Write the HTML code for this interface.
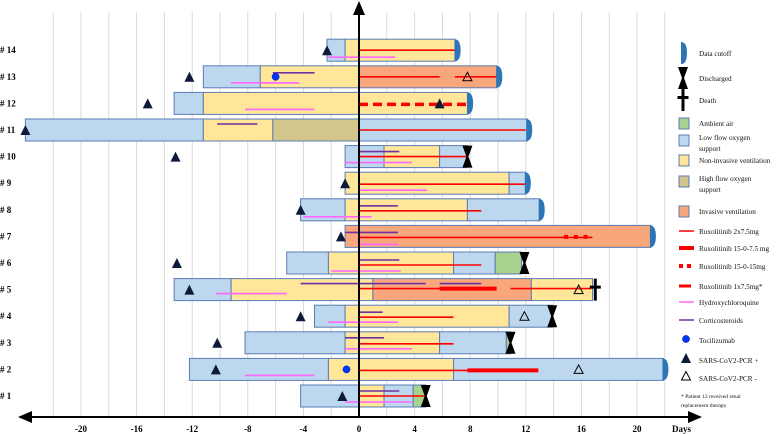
<!DOCTYPE html>
<html><head><meta charset="utf-8">
<style>
html,body{margin:0;padding:0;background:#fff;}
svg{display:block;font-family:"Liberation Serif",serif;}
</style></head>
<body>
<svg id="chart" width="780" height="434" viewBox="0 0 780 434" xmlns="http://www.w3.org/2000/svg">
<defs>
<marker id="arr" markerWidth="8" markerHeight="8" refX="6" refY="3" orient="auto"><path d="M0,0 L7,3 L0,6 z" fill="#000"/></marker>
</defs>
<g id="grid"></g>
<g id="bars"></g>
<g id="lines"></g>
<g id="marks"></g>
<g id="axes"></g>
<g id="legend"></g>
</svg>
<script>
// ---- data ----
const patients = ["# 1","# 2","# 3","# 4","# 5","# 6","# 7","# 8","# 9","# 10","# 11","# 12","# 13","# 14"];
const xTicks = [-20,-16,-12,-8,-4,0,4,8,12,16,20];
const gridDays = [-22,-20,-18,-16,-14,-12,-10,-8,-6,-4,-2,2,4,6,8,10,12,14,16,18,20,22];
// segments: [patientIndex, start, end, state]
const segments = [
 [13,-2.3,-1,"low"],[13,-1,6.9,"niv"],
 [12,-11.2,-7.1,"low"],[12,-7.1,0,"niv"],[12,0,9.9,"inv"],
 [11,-13.3,-11.2,"low"],[11,-11.2,7.8,"niv"],
 [10,-24,-11.2,"low"],[10,-11.2,-6.2,"niv"],[10,-6.2,0,"high"],[10,0,12.1,"low"],
 [9,-1,1.8,"low"],[9,1.8,5.8,"niv"],[9,5.8,7.8,"low"],
 [8,-1,10.8,"niv"],[8,10.8,12,"low"],
 [7,-4.2,-1,"low"],[7,-1,7.8,"niv"],[7,7.8,13,"low"],
 [6,-1,21,"inv"],
 [5,-5.2,-2.2,"low"],[5,-2.2,6.8,"niv"],[5,6.8,9.8,"low"],[5,9.8,11.7,"amb"],
 [4,-13.3,-9.2,"low"],[4,-9.2,1,"niv"],[4,1,12.4,"inv"],[4,12.4,16.8,"niv"],
 [3,-3.2,-1,"low"],[3,-1,10.8,"niv"],[3,10.8,13.9,"low"],
 [2,-8.2,-1,"low"],[2,-1,5.8,"niv"],[2,5.8,10.6,"low"],[2,10.6,10.9,"amb"],
 [1,-12.2,-2.2,"low"],[1,-2.2,6.8,"niv"],[1,6.8,21.9,"low"],
 [0,-4.2,0,"low"],[0,0,1.8,"niv"],[0,1.8,3.9,"low"],[0,3.9,4.8,"amb"]
];
// treatment lines: [patientIndex, start, end, kind, offset]
const treatments = [
 [13,0,6.9,"rux",0],[13,-2.2,2.6,"hcq",7],
 [12,-6.2,-3.2,"cort",-4],[12,-9.2,-4.3,"hcq",6],[12,0,5.8,"rux",0],[12,6.9,9.9,"rux",0],
 [11,-8.2,-3.2,"hcq",6],[11,0,7.8,"ruxdash",1],
 [10,-10.2,-7.3,"cort",-6],[10,0,12,"rux",0],
 [9,0,2.9,"cort",-5],[9,0,7.8,"rux",0],[9,-1,3.8,"hcq",6],
 [8,0,12,"rux",1],[8,0,4.9,"hcq",7],
 [7,0,2.8,"cort",-4],[7,0,8.8,"rux",1],[7,-4,0.9,"hcq",7],
 [6,-1,2.8,"cort",-4],[6,0,16.8,"rux",1],[6,0,2.8,"hcq",8],
 [5,0,2.9,"cort",-3],[5,0,8.8,"rux",2],[5,-2,3,"hcq",8],
 [4,-4.2,4.8,"cort",-6],[4,5.8,8.8,"cort",-6],[4,0,9.9,"rux",-1],[4,5.8,9.9,"ruxthick",-1],[4,10.9,16.7,"rux",-1],[4,-10.3,-5.2,"hcq",4],
 [3,0,1.7,"cort",-4],[3,0,6.8,"rux",1],[3,-2.2,2.8,"hcq",6],
 [2,-1,1.8,"cort",-5],[2,0,6.8,"rux",1],[2,-1,3.8,"hcq",6],
 [1,0,7.8,"rux",1],[1,7.8,12.9,"ruxthick",1],[1,-8.2,-3.2,"hcq",6],
 [0,0,2.9,"cort",-5],[0,0,4.8,"rux",0],[0,-1,3.8,"hcq",6]
];
// markers: [patientIndex, day, kind]
const markers = [
 [13,-2.3,"pcrpos"],[13,6.95,"cutoff"],
 [12,-12.2,"pcrpos"],[12,-6,"toci"],[12,7.8,"pcrneg"],[12,9.95,"cutoff"],
 [11,-15.2,"pcrpos"],[11,5.8,"pcrpos"],[11,7.85,"cutoff"],
 [10,-24,"pcrpos"],[10,12.1,"cutoff"],
 [9,-13.2,"pcrpos"],[9,7.8,"discharged"],
 [8,-1,"pcrpos"],[8,12,"cutoff"],
 [7,-4.2,"pcrpos"],[7,13,"cutoff"],
 [6,-1.3,"pcrpos"],[6,21,"cutoff"],
 [5,-13.1,"pcrpos"],[5,11.9,"discharged"],
 [4,-12.2,"pcrpos"],[4,15.8,"pcrneg"],[4,17,"death"],
 [3,-4.2,"pcrpos"],[3,11.9,"pcrneg"],[3,13.9,"discharged"],
 [2,-10.2,"pcrpos"],[2,10.9,"discharged"],
 [1,-10.3,"pcrpos"],[1,-0.9,"toci"],[1,15.8,"pcrneg"],[1,21.9,"cutoff"],
 [0,-1.2,"pcrpos"],[0,4.8,"discharged"]
];
// ---- scales ----
const X = d => 359 + d*13.9;
const Y = i => 396 - i*26.6;
const NS = "http://www.w3.org/2000/svg";
function mk(parent, tag, attrs, name){
  const e = document.createElementNS(NS, tag);
  for (const k in attrs) e.setAttribute(k, attrs[k]);
  
  
  document.getElementById(parent).appendChild(e);
  return e;
}
const fills = {low:"#bdd7ee",niv:"#ffe699",inv:"#f8a77c",high:"#d3c68c",amb:"#a9d18e"};
// grid
gridDays.forEach(d=>{
  mk("grid","line",{x1:X(d),x2:X(d),y1:12,y2:416,stroke:"#d9d9d9","stroke-width":1},"gridline");
});
// bars
segments.forEach(s=>{
  const x1=X(s[1]), x2=X(s[2]);
  mk("bars","rect",{x:x1,y:Y(s[0])-11,width:x2-x1,height:22,fill:fills[s[3]],stroke:"#5a7db5","stroke-width":1},"bar-"+s[3]);
});
// treatments
treatments.forEach(t=>{
  const y=Y(t[0])+t[4];
  const a={x1:X(t[1]),x2:X(t[2]),y1:y,y2:y};
  if(t[3]==="rux"){a.stroke="#ff0000";a["stroke-width"]=1.6;}
  else if(t[3]==="ruxthick"){a.stroke="#ff0000";a["stroke-width"]=4;}
  else if(t[3]==="ruxdash"){a.stroke="#ff0000";a["stroke-width"]=3.5;a["stroke-dasharray"]="9,5";}
  else if(t[3]==="hcq"){a.stroke="#ff66ff";a["stroke-width"]=1.6;}
  else {a.stroke="#7030a0";a["stroke-width"]=1.6;}
  mk("lines","line",a,"line-"+t[3]);
});
// special squares on patient 7
[14.9,15.6,16.3].forEach(d=>{
  mk("lines","rect",{x:X(d)-2,y:Y(6)-1.5,width:4,height:4,fill:"#ff0000"},"rux-square");
});
function drawMarker(g,x,y,k){
  if(k==="pcrpos") return mk(g,"path",{d:`M${x-5},${y+5} L${x},${y-5} L${x+5},${y+5} z`,fill:"#0d1a3a"},"pcr-positive");
  if(k==="pcrneg") return mk(g,"path",{d:`M${x-4.5},${y+4} L${x},${y-4.5} L${x+4.5},${y+4} z`,fill:"none",stroke:"#000","stroke-width":1},"pcr-negative");
  if(k==="toci") return mk(g,"circle",{cx:x,cy:y,r:3.6,fill:"#0033ff",stroke:"#002299","stroke-width":0.5},"tocilizumab");
  if(k==="cutoff") return mk(g,"path",{d:`M${x-1},${y-11} Q${x+5},${y-11} ${x+5},${y} Q${x+5},${y+11} ${x-1},${y+11} z`,fill:"#2e75b6"},"data-cutoff");
  if(k==="discharged") return mk(g,"path",{d:`M${x-5},${y-11} L${x+5},${y-11} L${x+1},${y} L${x+5},${y+11} L${x-5},${y+11} L${x-1},${y} z`,fill:"#000"},"discharged");
  if(k==="death") return mk(g,"path",{d:`M${x-1.5},${y-11} h3 v7 h4 v3 h-4 v12 h-3 v-12 h-4 v-3 h4 z`,fill:"#000"},"death");
}
markers.forEach(m=>drawMarker("marks",X(m[1]),Y(m[0]),m[2]));
// axes
mk("axes","line",{x1:X(0),x2:X(0),y1:417,y2:3,stroke:"#000","stroke-width":2,"marker-end":"url(#arr)"},"y-axis");
mk("axes","line",{x1:X(0),x2:700,y1:417,y2:417,stroke:"#000","stroke-width":2,"marker-end":"url(#arr)"},"x-axis-right");
mk("axes","line",{x1:X(0),x2:20,y1:417,y2:417,stroke:"#000","stroke-width":2,"marker-end":"url(#arr)"},"x-axis-left");
xTicks.forEach(d=>{
  const t=mk("axes","text",{x:X(d),y:432,"text-anchor":"middle","font-size":9,"font-weight":"bold"},"x-tick-label");
  t.textContent=d;
});
const dl=mk("axes","text",{x:672,y:432,"font-size":9,"font-weight":"bold"},"x-axis-title");
dl.textContent="Days";
patients.forEach((p,i)=>{
  const t=mk("axes","text",{x:0,y:Y(i)+3,"font-size":9,"font-weight":"bold"},"patient-label");
  t.textContent=p;
});
// legend
const LX=699;
function ltext(y,lines){
  lines.forEach((s,j)=>{
    const t=mk("legend","text",{x:LX,y:y+3+j*11,"font-size":7.2,fill:"#111"},"legend-label");
    t.textContent=s;
  });
}
drawMarker("legend",682,53,"cutoff"); ltext(53,["Data cutoff"]);
drawMarker("legend",683,78,"discharged"); ltext(78,["Discharged"]);
drawMarker("legend",683,100,"death"); ltext(100,["Death"]);
const sw=[["amb",123,["Ambient air"]],["low",140,["Low flow oxygen","support"]],["niv",160,["Non-invasive ventilation"]],["high",181,["High flow oxygen","support"]],["inv",211,["Invasive ventilation"]]];
sw.forEach(s=>{
  mk("legend","rect",{x:679,y:s[1]-5,width:10,height:11,fill:fills[s[0]],stroke:"#5a7db5","stroke-width":1},"legend-swatch-"+s[0]);
  ltext(s[1]-(s[2].length>1?1:0)+ (s[2].length>1?-2:0), s[2]);
});
const ll=[[231,"rux",["Ruxolitinib 2x7.5mg"]],[248,"ruxthick",["Ruxolitinib 15-0-7.5 mg"]],[266,"ruxdash",["Ruxolitinib 15-0-15mg"]],[286,"ruxmid",["Ruxolitinib 1x7.5mg*"]],[302,"hcq",["Hydroxychloroquine"]],[320,"cort",["Corticosteroids"]]];
ll.forEach(l=>{
  const a={x1:679,x2:694,y1:l[0],y2:l[0]};
  if(l[1]==="rux"){a.stroke="#ff0000";a["stroke-width"]=1.5;}
  if(l[1]==="ruxthick"){a.stroke="#ff0000";a["stroke-width"]=4;}
  if(l[1]==="ruxdash"){a.stroke="#ff0000";a["stroke-width"]=4;a["stroke-dasharray"]="4,4";}
  if(l[1]==="ruxmid"){a.stroke="#ff0000";a["stroke-width"]=3;a.x2=691;}
  if(l[1]==="hcq"){a.stroke="#ff66ff";a["stroke-width"]=1.5;}
  if(l[1]==="cort"){a.stroke="#7030a0";a["stroke-width"]=1.5;}
  mk("legend","line",a,"legend-line-"+l[1]);
  ltext(l[0],l[2]);
});
drawMarker("legend",686,339,"toci"); ltext(340,["Tocilizumab"]);
drawMarker("legend",686,358,"pcrpos"); ltext(360,["SARS-CoV2-PCR +"]);
drawMarker("legend",686,376,"pcrneg"); ltext(378,["SARS-CoV2-PCR -"]);
["* Patient 12 received renal","replacement therapy"].forEach((s,j)=>{
  const t=mk("legend","text",{x:681,y:398+j*9,"font-size":5.6,fill:"#111"},"footnote");
  t.textContent=s;
});
</script>
</body></html>
